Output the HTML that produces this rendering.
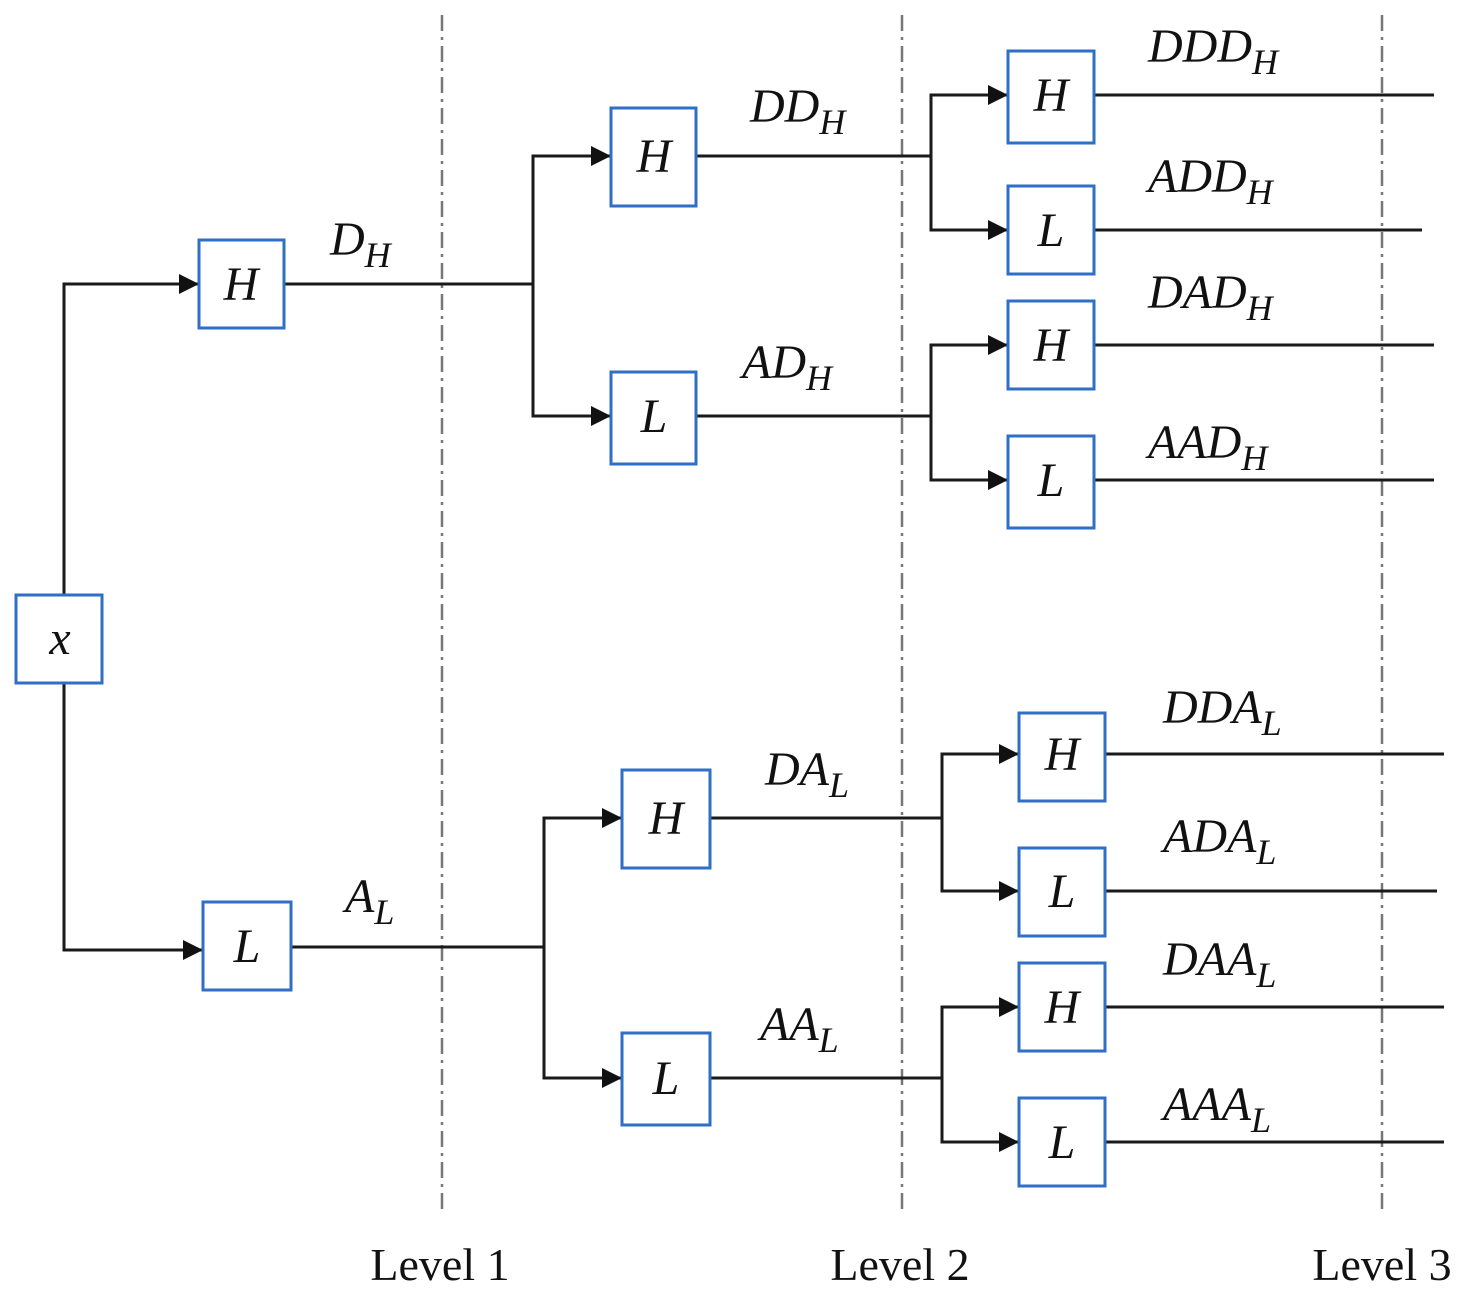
<!DOCTYPE html>
<html><head><meta charset="utf-8"><style>
html,body{margin:0;padding:0;background:#fff;}
svg{display:block;}
.b{fill:#fff;stroke:#2f6fc6;stroke-width:3;}
.l{stroke:#1a1a1a;stroke-width:3;fill:none;}
.d{stroke:#777;stroke-width:2.5;stroke-dasharray:16 6 3 6;}
.t{font-family:"Liberation Serif",serif;font-style:italic;font-size:48px;fill:#111;}
.s{font-size:36px;}
.v{font-family:"Liberation Serif",serif;font-size:46px;fill:#111;}
</style></head><body>
<svg width="1464" height="1302" viewBox="0 0 1464 1302" xmlns="http://www.w3.org/2000/svg">
<defs>
<marker id="A" viewBox="0 0 10 10" markerWidth="22" markerHeight="20" refX="10" refY="5" orient="auto" markerUnits="userSpaceOnUse"><path d="M0,0 L10,5 L0,10 z" fill="#111"/></marker></defs>
<line class="d" x1="442" y1="15" x2="442" y2="1212"/>
<line class="d" x1="902" y1="15" x2="902" y2="1212"/>
<line class="d" x1="1382" y1="15" x2="1382" y2="1212"/>
<g class="l">
<path d="M64,595 V284 H199" marker-end="url(#A)"/>
<path d="M64,683 V950 H203" marker-end="url(#A)"/>
<path d="M284,284 H533"/><path d="M533,284 V156 H611" marker-end="url(#A)"/><path d="M533,284 V416 H611" marker-end="url(#A)"/>
<path d="M291,947 H544"/><path d="M544,947 V818 H622" marker-end="url(#A)"/><path d="M544,947 V1078 H622" marker-end="url(#A)"/>
<path d="M696,156 H931"/><path d="M931,156 V95 H1008" marker-end="url(#A)"/><path d="M931,156 V230 H1008" marker-end="url(#A)"/>
<path d="M696,416 H931"/><path d="M931,416 V345 H1008" marker-end="url(#A)"/><path d="M931,416 V480 H1008" marker-end="url(#A)"/>
<path d="M710,818 H942"/><path d="M942,818 V754 H1019" marker-end="url(#A)"/><path d="M942,818 V891 H1019" marker-end="url(#A)"/>
<path d="M710,1078 H942"/><path d="M942,1078 V1007 H1019" marker-end="url(#A)"/><path d="M942,1078 V1142 H1019" marker-end="url(#A)"/>
<path d="M1094,95 H1434 M1094,230 H1422 M1094,345 H1434 M1094,480 H1434"/>
<path d="M1105,754 H1444 M1105,891 H1437 M1105,1007 H1444 M1105,1142 H1444"/>
</g>
<rect class="b" x="16" y="595" width="86" height="88"/>
<rect class="b" x="199" y="240" width="85" height="88"/>
<rect class="b" x="203" y="902" width="88" height="88"/>
<rect class="b" x="611" y="108" width="85" height="98"/>
<rect class="b" x="611" y="372" width="85" height="92"/>
<rect class="b" x="622" y="770" width="88" height="98"/>
<rect class="b" x="622" y="1033" width="88" height="92"/>
<rect class="b" x="1008" y="51" width="86" height="92"/>
<rect class="b" x="1008" y="186" width="86" height="88"/>
<rect class="b" x="1008" y="301" width="86" height="88"/>
<rect class="b" x="1008" y="436" width="86" height="92"/>
<rect class="b" x="1019" y="713" width="86" height="88"/>
<rect class="b" x="1019" y="848" width="86" height="88"/>
<rect class="b" x="1019" y="963" width="86" height="88"/>
<rect class="b" x="1019" y="1098" width="86" height="88"/>
<g class="t" text-anchor="middle">
<text x="60" y="654">x</text>
<text x="241" y="300">H</text>
<text x="247" y="962">L</text>
<text x="654" y="172">H</text>
<text x="654" y="432">L</text>
<text x="666" y="834">H</text>
<text x="666" y="1094">L</text>
<text x="1051" y="111">H</text>
<text x="1051" y="246">L</text>
<text x="1051" y="361">H</text>
<text x="1051" y="496">L</text>
<text x="1062" y="770">H</text>
<text x="1062" y="907">L</text>
<text x="1062" y="1023">H</text>
<text x="1062" y="1158">L</text>
</g>
<g class="t">
<text x="330" y="255">D<tspan class="s" dy="12">H</tspan></text>
<text x="750" y="122">DD<tspan class="s" dy="12">H</tspan></text>
<text x="742" y="378">AD<tspan class="s" dy="12">H</tspan></text>
<text x="1148" y="62">DDD<tspan class="s" dy="12">H</tspan></text>
<text x="1148" y="192">ADD<tspan class="s" dy="12">H</tspan></text>
<text x="1148" y="308">DAD<tspan class="s" dy="12">H</tspan></text>
<text x="1148" y="458">AAD<tspan class="s" dy="12">H</tspan></text>
<text x="345" y="912">A<tspan class="s" dy="12">L</tspan></text>
<text x="765" y="785">DA<tspan class="s" dy="12">L</tspan></text>
<text x="760" y="1040">AA<tspan class="s" dy="12">L</tspan></text>
<text x="1163" y="723">DDA<tspan class="s" dy="12">L</tspan></text>
<text x="1163" y="852">ADA<tspan class="s" dy="12">L</tspan></text>
<text x="1163" y="975">DAA<tspan class="s" dy="12">L</tspan></text>
<text x="1163" y="1120">AAA<tspan class="s" dy="12">L</tspan></text>
</g>
<g class="v" text-anchor="middle">
<text x="440" y="1280">Level 1</text>
<text x="900" y="1280">Level 2</text>
<text x="1382" y="1280">Level 3</text>
</g>
</svg>
</body></html>
